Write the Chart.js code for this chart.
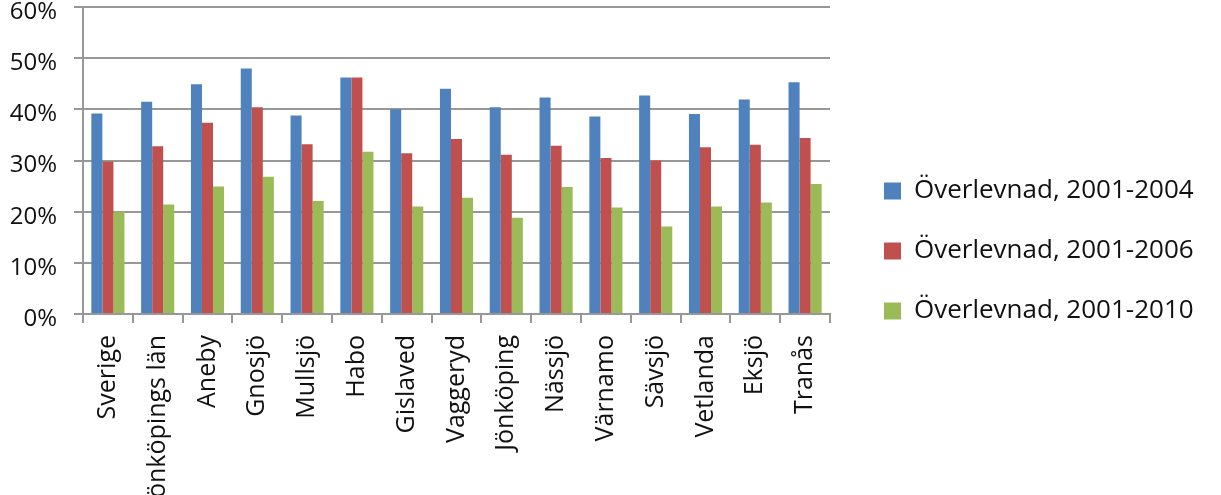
<!DOCTYPE html>
<html>
<head>
<meta charset="utf-8">
<script src="https://cdn.jsdelivr.net/npm/chart.js@4.4.1/dist/chart.umd.min.js"></script>
<style>
    html, body { margin: 0; padding: 0; background: #fff; }
    #wrap { width: 1221px; height: 495px; }
</style>
</head>
<body>
<div id="wrap"><canvas id="chart"></canvas></div>
<script>
// Categories and series values (percent)
const categories = ["Sverige", "Jönköpings län", "Aneby", "Gnosjö", "Mullsjö", "Habo", "Gislaved",
    "Vaggeryd", "Jönköping", "Nässjö", "Värnamo", "Sävsjö", "Vetlanda", "Eksjö", "Tranås"];
const seriesNames = ["Överlevnad, 2001-2004", "Överlevnad, 2001-2006", "Överlevnad, 2001-2010"];
const survival2004 = [39.2, 41.5, 44.9, 48.0, 38.8, 46.2, 40.0, 44.0, 40.4, 42.3, 38.6, 42.7, 39.1, 41.9, 45.3];
const survival2006 = [29.8, 32.8, 37.4, 40.4, 33.2, 46.2, 31.4, 34.2, 31.1, 32.9, 30.5, 30.0, 32.6, 33.1, 34.4];
const survival2010 = [20.0, 21.4, 24.9, 26.8, 22.1, 31.7, 21.0, 22.7, 18.8, 24.8, 20.8, 17.1, 21.0, 21.8, 25.4];
const yTicks = [0, 10, 20, 30, 40, 50, 60];

const colors = ["#4f81bd", "#c0504d", "#9bbb59"];
const gridColor = "#989898";
const font = "'Open Sans', 'Liberation Sans', sans-serif";

// Small layout tweaks: move the legend right, drop the y labels a few pixels
const layoutTweaks = {
    id: "layoutTweaks",
    afterLayout(chart) {
        const legend = chart.legend;
        if (legend) {
            legend.left += 20;
            legend.right += 20;
        }
        const y = chart.scales.y;
        if (y && !y._shifted) {
            const draw = y.drawLabels;
            y._computeLabelArea = () => undefined; // no clipping, the top label sits near the edge
            y.drawLabels = function (area) {
                const c = this.ctx;
                c.save();
                c.translate(0, 5);
                draw.call(this, area);
                c.restore();
            };
            y._shifted = true;
        }
    }
};

const ctx = document.getElementById("chart").getContext("2d");
new Chart(ctx, {
    type: "bar",
    data: {
        labels: categories,
        datasets: [
            { label: seriesNames[0], data: survival2004, backgroundColor: colors[0] },
            { label: seriesNames[1], data: survival2006, backgroundColor: colors[1] },
            { label: seriesNames[2], data: survival2010, backgroundColor: colors[2] }
        ]
    },
    options: {
        responsive: true,
        maintainAspectRatio: false,
        animation: false,
        layout: { padding: { top: 7, right: 0, left: 0, bottom: 0 } },
        datasets: {
            bar: { categoryPercentage: 0.665, barPercentage: 1.0, borderWidth: 0 }
        },
        plugins: {
            tooltip: { enabled: false },
            legend: {
                position: "right",
                align: "center",
                labels: {
                    boxWidth: 17,
                    boxHeight: 17,
                    padding: 34,
                    color: "#111",
                    font: { family: font, size: 26 }
                }
            }
        },
        scales: {
            x: {
                grid: {
                    drawOnChartArea: false,
                    drawTicks: true,
                    tickLength: 9,
                    color: gridColor,
                    lineWidth: 2
                },
                border: { color: gridColor, width: 2 },
                ticks: {
                    minRotation: 90,
                    maxRotation: 90,
                    autoSkip: false,
                    padding: 12,
                    color: "#111",
                    font: { family: font, size: 25 }
                },
                afterFit(scale) {
                    scale.height = 181;
                    scale.paddingLeft = 0;
                    scale.paddingRight = 0;
                }
            },
            y: {
                min: 0,
                max: 60,
                afterBuildTicks(scale) {
                    scale.ticks = yTicks.map(v => ({ value: v }));
                },
                grid: {
                    color: gridColor,
                    lineWidth: 2,
                    tickLength: 9
                },
                border: { color: gridColor, width: 2 },
                ticks: {
                    padding: 17,
                    color: "#111",
                    font: { family: font, size: 24 },
                    callback: v => v + "%"
                },
                afterFit(scale) {
                    scale.width = 83;
                    scale.paddingTop = 0;
                    scale.paddingBottom = 0;
                }
            }
        }
    },
    plugins: [layoutTweaks]
});

// Pin the legend width so the plot area ends where the reference does
(function () {
    const chart = Chart.getChart("chart");
    const legend = chart.legend;
    const fit = legend.fit;
    legend.fit = function () {
        fit.call(this);
        this.width = 391;
    };
    chart.update();
})();
</script>
</body>
</html>
